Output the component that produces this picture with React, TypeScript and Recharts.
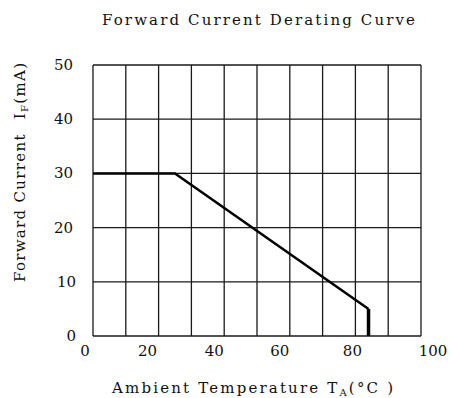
import React from "react";
import { LineChart, Line, XAxis, YAxis, CartesianGrid } from "recharts";

// Derating curve (ambient temperature °C -> forward current mA)
const temperature = [0, 25, 84];
const forwardCurrent = [30, 30, 5];
// Cut-off segment at the maximum temperature
const cutoffTemperature = [84, 84];
const cutoffCurrent = [5, 0];

const xGridTicks = [0, 10, 20, 30, 40, 50, 60, 70, 80, 90, 100];
const xTickLabels = ["0", "20", "40", "60", "80", "100"];
const yTicks = [0, 10, 20, 30, 40, 50];

const mainData = temperature.map((t, i) => ({ temp: t, current: forwardCurrent[i] }));
const cutoffData = cutoffTemperature.map((t, i) => ({ temp: t, current: cutoffCurrent[i] }));

const FONT = "'DejaVu Serif', serif";

// small visual nudges of the x tick labels as in the reference
const xNudge: Record<string, number> = { "0": -8, "20": -11, "40": -10, "60": -10, "80": -3, "100": 12 };

const XTick = (props: any) => {
  const { x, y, payload } = props;
  const label = String(payload.value);
  if (!xTickLabels.includes(label)) return null;
  return (
    <text x={x + (xNudge[label] || 0)} y={y + 12} textAnchor="middle" fontFamily={FONT} fontSize={15} fill="#111">
      {label}
    </text>
  );
};

const YTick = (props: any) => {
  const { x, y, payload } = props;
  const label = String(payload.value);
  const extra = payload.value <= 10 ? 3 : 0;
  return (
    <text x={x - 12 + extra} y={y + 5} textAnchor="end" fontFamily={FONT} fontSize={15} fill="#111">
      {label}
    </text>
  );
};

export default function App() {
  return (
    <div style={{ position: "absolute", left: 0, top: 0, width: 451, height: 398, background: "#fff" }}>
      <LineChart width={451} height={398} margin={{ top: 65, right: 30, bottom: 0, left: 0 }}>
        <CartesianGrid stroke="#1a1a1a" strokeWidth={1.3} />
        <XAxis
          dataKey="temp"
          type="number"
          domain={[0, 100]}
          ticks={xGridTicks}
          interval={0}
          height={62}
          axisLine={false}
          tickLine={false}
          tick={<XTick />}
          allowDuplicatedCategory={false}
        />
        <YAxis
          type="number"
          domain={[0, 50]}
          ticks={yTicks}
          interval={0}
          width={93}
          axisLine={false}
          tickLine={false}
          tick={<YTick />}
        />
        <Line
          data={mainData}
          dataKey="current"
          stroke="#000"
          strokeWidth={2.5}
          dot={false}
          isAnimationActive={false}
          type="linear"
        />
        <Line
          data={cutoffData}
          dataKey="current"
          stroke="#000"
          strokeWidth={3.5}
          dot={false}
          isAnimationActive={false}
          type="linear"
        />
        <text x={102} y={25} fontFamily={FONT} fontSize={15} fill="#111" textLength={313} lengthAdjust="spacing">
          Forward Current Derating Curve
        </text>
        <text
          x={112}
          y={393}
          fontFamily={FONT}
          fontSize={15}
          fill="#111"
          textLength={281}
          lengthAdjust="spacing"
        >
          Ambient Temperature T
          <tspan fontSize={10} dy={3}>A</tspan>
          <tspan dy={-3}>(°C )</tspan>
        </text>
        <text
          x={25}
          y={282}
          transform="rotate(-90, 25, 282)"
          fontFamily={FONT}
          fontSize={15}
          fill="#111"
          textLength={219}
          lengthAdjust="spacing"
        >
          Forward Current
          <tspan dx={14}>I</tspan>
          <tspan fontSize={10} dy={3}>F</tspan>
          <tspan dy={-3}>(mA)</tspan>
        </text>
      </LineChart>
    </div>
  );
}
